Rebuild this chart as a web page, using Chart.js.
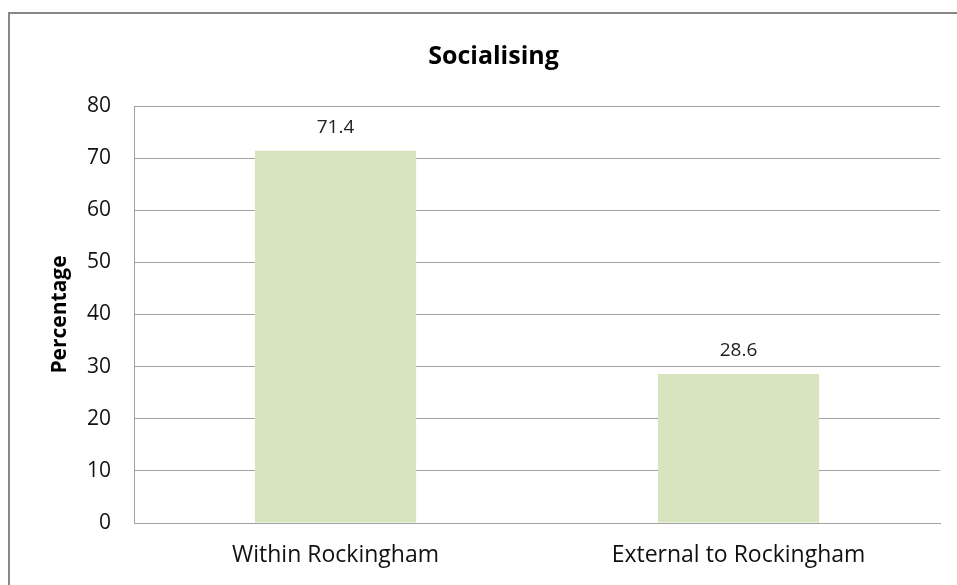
<!DOCTYPE html>
<html>
<head>
<meta charset="utf-8">
<script src="https://cdn.jsdelivr.net/npm/chart.js@4"></script>
<style>
  html, body { margin: 0; padding: 0; background: #fff; }
  #wrap { width: 957px; height: 585px; position: relative; }
</style>
</head>
<body>
<div id="wrap"><canvas id="c" width="957" height="585"></canvas></div>
<script>
// Share of socialising by location
const categories = ['Within Rockingham', 'External to Rockingham'];
const percentages = [71.4, 28.6];
const yTicks = [0, 10, 20, 30, 40, 50, 60, 70, 80];

const FONT = '"Open Sans", Lato, sans-serif';

// Outer frame around the chart
const framePlugin = {
  id: 'frame',
  beforeDraw(chart) {
    const ctx = chart.ctx;
    ctx.save();
    ctx.fillStyle = '#ffffff';
    ctx.fillRect(0, 0, chart.width, chart.height);
    ctx.strokeStyle = '#878787';
    ctx.lineWidth = 2;
    ctx.strokeRect(9, 13, chart.width + 20, chart.height + 20);
    ctx.restore();
  }
};

// Value labels above each bar
const valueLabels = {
  id: 'valueLabels',
  afterDatasetsDraw(chart) {
    const ctx = chart.ctx;
    const meta = chart.getDatasetMeta(0);
    ctx.save();
    ctx.font = '19px ' + FONT;
    ctx.fillStyle = '#222';
    ctx.textAlign = 'center';
    ctx.textBaseline = 'middle';
    meta.data.forEach((bar, i) => {
      const v = chart.data.datasets[0].data[i];
      ctx.fillText(v.toFixed(1), bar.x, bar.y - 23);
    });
    ctx.restore();
  }
};

new Chart(document.getElementById('c'), {
  type: 'bar',
  data: {
    labels: categories,
    datasets: [{
      data: percentages,
      backgroundColor: '#D7E4BD',
      borderWidth: 0,
      barPercentage: 0.4,
      categoryPercentage: 1.0
    }]
  },
  options: {
    responsive: false,
    animation: false,
    layout: { padding: { top: 30, right: 17, bottom: 0, left: 47 } },
    plugins: {
      legend: { display: false },
      tooltip: { enabled: false },
      title: {
        display: true,
        text: 'Socialising',
        color: '#000',
        font: { family: FONT, size: 25, weight: 'bold' },
        padding: { top: 12, bottom: 34 }
      }
    },
    scales: {
      x: {
        afterFit(scale) { scale.height = 62; },
        grid: { display: false, drawTicks: false },
        border: { display: true, color: '#a0a0a0', width: 1 },
        ticks: {
          color: '#111',
          font: { family: FONT, size: 23 },
          padding: 19,
          maxRotation: 0
        }
      },
      y: {
        min: 0,
        max: 80,
        afterBuildTicks(scale) {
          scale.ticks = yTicks.map(v => ({ value: v }));
        },
        afterFit(scale) { scale.width = 87; },
        grid: { color: '#a0a0a0', lineWidth: 1, drawTicks: false },
        border: { display: true, color: '#a0a0a0', width: 1 },
        ticks: {
          color: '#111',
          font: { family: FONT, size: 21 },
          padding: 23
        },
        title: {
          display: true,
          text: 'Percentage',
          color: '#000',
          font: { family: FONT, size: 21, weight: 'bold' },
          padding: { top: 0, bottom: 0 }
        }
      }
    }
  },
  plugins: [framePlugin, valueLabels]
});
</script>
</body>
</html>
